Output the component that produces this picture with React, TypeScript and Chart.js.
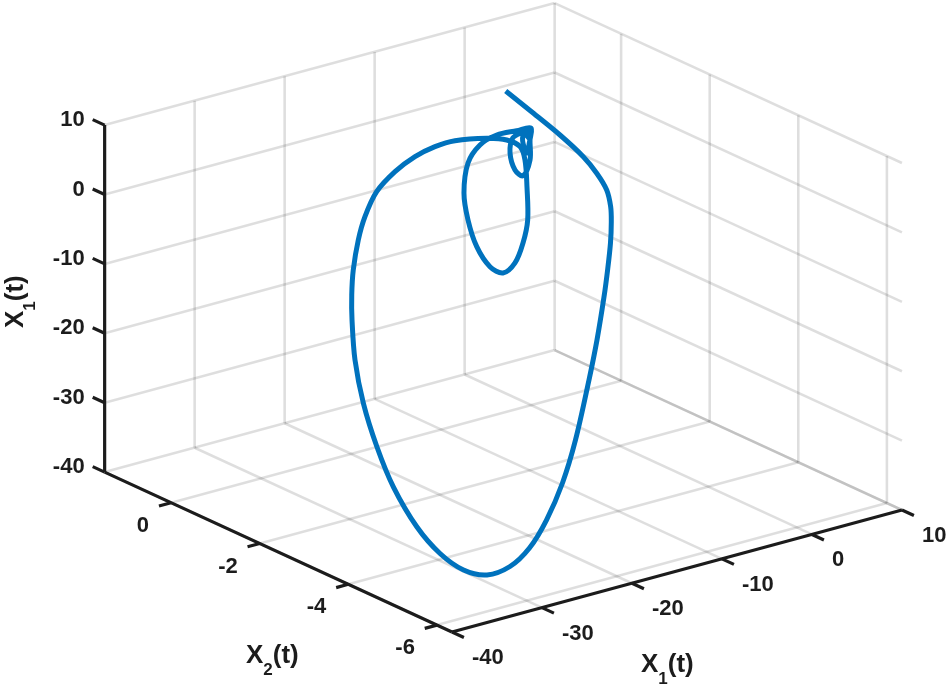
import React, { useEffect, useRef } from "react";
import { Chart, registerables } from "chart.js";

Chart.register(...registerables);

const x1Ticks = [-40, -30, -20, -10, 0, 10];
const x2Ticks = [0, -2, -4, -6];
const x3Ticks = [10, 0, -10, -20, -30, -40];
const x1Limits = [-40, 10];
const x2Limits = [1.5, -6.34];
const x3Limits = [-40, 10];

const curveX1 = [
  -2.82, -0.12, 3.21, 5.8, 7.29, 8.4, 8.84, 8.91, 8.82, 8.5, 8.1,
  4.86, 1.51, -4.91, -11.28, -17.98, -22.33, -26.96, -29.51, -32.12, -32.27, -32.37, -30.06, -29.43, -28.47, -26.95, -24.82, -22.39,
  -19.76, -19.2, -18.46, -17.16, -15.12, -12.9, -10.68, -8.46, -4.93, -2.71,
  -1.23, -0.68, -0.46, -0.38, -0.9, -1.79, -3.12, -4.57, -6.04, -7.01, -7.46, -7.01, -5.68, -3.82, -1.6, -0.01,
  -0.12, -0.12, -0.9, -1.79, -2.34, -2.04, -1.04, -0.04, -0.2, -0.46, -0.79, -0.93, -0.34, -0.23, -0.49, -0.34,
];
const curveX2 = [
  0, 0, 0, 0, 0, 0, 0, 0, 0, 0, 0,
  -0.5, -1, -2, -3, -4, -4.5, -5, -5, -5, -4.5, -4, -3, -2.5, -2, -1.5, -1, -0.5,
  0, 0, 0, 0, 0, 0, 0, 0, 0, 0,
  0, 0, 0, 0, 0, 0, 0, 0, 0, 0, 0, 0, 0, 0, 0, 0,
  0, 0, 0, 0, 0, 0, 0, 0, 0, 0, 0, 0, 0, 0, 0, 0,
];
const curveX3 = [
  6.25, 2.49, -2.21, -6.25, -9.16, -11.96, -14.52, -16.75, -19.74, -23.52, -27.27,
  -30.86, -33.97, -37.42, -38.44, -38.48, -39.51, -39.08, -39.4, -37.77, -36.81, -34.43, -32.43, -28.34, -23.9, -19.62, -16.07, -14.79,
  -13.58, -9.46, -6.36, -3.22, -1.05, 0.33, 0.99, 1.07, 0.18, -0.85,
  -2.33, -4.44, -8.37, -13.19, -16.33, -18.89, -19.87, -18.45, -15.05, -10.86, -6.82, -2.65, -0.52, 0.26, 0.1, -0.07,
  -1.76, -4.64, -6.63, -5.49, -2.85, -0.8, -0.38, -0.35, -2.16, -3.51, -2.53, -1.04, -0.63, -1.43, -0.91, -0.67,
];

const view = (x1: number, x2: number, x3: number) => ({
  x: 531.1 + 9 * x1 - 44.3 * x2,
  y: 127.5 - 2.44 * x1 - 20.4 * x2 - 6.94 * x3,
});

const BLUE = "#0072BD";
const INK = "#1c1c1c";
const GRID = "rgba(0,0,0,0.13)";
const FONT = '"Liberation Sans", Arial, sans-serif';

const [x1Min, x1Max] = x1Limits;
const [x2Back, x2Front] = x2Limits;
const [x3Min, x3Max] = x3Limits;

function polyline(points: { x: number; y: number }[], color: string, width: number, order: number) {
  return {
    type: "line" as const,
    data: points,
    borderColor: color,
    borderWidth: width,
    pointRadius: 0,
    tension: 0,
    fill: false,
    order,
    borderCapStyle: "butt" as const,
  };
}

function buildDatasets() {
  const grid: any[] = [];
  const g = (a: number[], b: number[]) =>
    grid.push(polyline([view(a[0], a[1], a[2]), view(b[0], b[1], b[2])], GRID, 2.6, 5));
  x1Ticks.forEach((t) => {
    g([t, x2Front, x3Min], [t, x2Back, x3Min]);
    g([t, x2Back, x3Min], [t, x2Back, x3Max]);
  });
  x2Ticks.forEach((t) => {
    g([x1Min, t, x3Min], [x1Max, t, x3Min]);
    g([x1Max, t, x3Min], [x1Max, t, x3Max]);
  });
  x3Ticks.forEach((t) => {
    g([x1Min, x2Back, t], [x1Max, x2Back, t]);
    g([x1Max, x2Back, t], [x1Max, x2Front, t]);
  });

  const axes: any[] = [];
  const a = (p: number[], q: number[]) =>
    axes.push(polyline([view(p[0], p[1], p[2]), view(q[0], q[1], q[2])], INK, 3.2, 2));
  a([x1Min, x2Back, x3Min], [x1Min, x2Back, x3Max]);
  a([x1Min, x2Back, x3Min], [x1Min, x2Front, x3Min]);
  a([x1Min, x2Front, x3Min], [x1Max, x2Front, x3Min]);
  x3Ticks.forEach((t) => a([x1Min, x2Back, t], [x1Min, x2Back + 0.27, t]));
  x2Ticks.forEach((t) => a([x1Min, t, x3Min], [x1Min - 1.35, t, x3Min]));
  x1Ticks.forEach((t) => a([t, x2Front, x3Min], [t, x2Front - 0.27, x3Min]));

  const curve = {
    ...polyline(curveX1.map((v, i) => view(v, curveX2[i], curveX3[i])), BLUE, 5, 1),
    tension: 0.33,
    borderJoinStyle: "round" as const,
  };
  return [curve, ...axes, ...grid];
}

function axisLabel(ctx: CanvasRenderingContext2D, sub: string) {
  ctx.textAlign = "left";
  ctx.textBaseline = "alphabetic";
  ctx.font = `bold 26px ${FONT}`;
  ctx.fillText("X", 0, 0);
  const w = ctx.measureText("X").width;
  ctx.font = `bold 17px ${FONT}`;
  ctx.fillText(sub, w, 12);
  const s = ctx.measureText(sub).width;
  ctx.font = `bold 26px ${FONT}`;
  ctx.fillText("(t)", w + s, 0);
}

const textPlugin = {
  id: "axisText",
  afterDraw(chart: any) {
    const ctx: CanvasRenderingContext2D = chart.ctx;
    const sx = chart.scales.x;
    const sy = chart.scales.y;
    const at = (x1: number, x2: number, x3: number) => {
      const p = view(x1, x2, x3);
      return { x: sx.getPixelForValue(p.x), y: sy.getPixelForValue(p.y) };
    };
    ctx.save();
    ctx.fillStyle = INK;
    ctx.font = `bold 22px ${FONT}`;
    ctx.textBaseline = "middle";
    ctx.textAlign = "right";
    x3Ticks.forEach((t) => {
      const p = at(x1Min, x2Back, t);
      ctx.fillText(String(t), p.x - 20, p.y - 5);
    });
    x2Ticks.forEach((t) => {
      const p = at(x1Min, t, x3Min);
      ctx.fillText(String(t), p.x - 22, p.y + 23);
    });
    ctx.textAlign = "left";
    x1Ticks.forEach((t) => {
      const p = at(t, x2Front, x3Min);
      ctx.fillText(String(t), p.x + 20, p.y + 26);
    });

    ctx.save();
    ctx.translate(246, 663);
    axisLabel(ctx, "2");
    ctx.restore();
    ctx.save();
    ctx.translate(641, 672);
    axisLabel(ctx, "1");
    ctx.restore();
    ctx.save();
    ctx.translate(23, 328);
    ctx.rotate(-Math.PI / 2);
    axisLabel(ctx, "1");
    ctx.restore();
    ctx.restore();
  },
};

export default function App() {
  const ref = useRef<HTMLCanvasElement>(null);
  useEffect(() => {
    const chart = new Chart(ref.current as HTMLCanvasElement, {
      type: "scatter",
      data: { datasets: buildDatasets() as any },
      plugins: [textPlugin],
      options: {
        animation: false,
        responsive: false,
        layout: { padding: 0 },
        plugins: { legend: { display: false }, tooltip: { enabled: false } },
        scales: {
          x: { type: "linear", min: 0, max: 950, display: false },
          y: { type: "linear", min: 0, max: 689, reverse: true, display: false },
        },
      },
    } as any);
    return () => chart.destroy();
  }, []);
  return (
    <div style={{ position: "absolute", left: 0, top: 0, width: 950, height: 689, background: "#fff" }}>
      <canvas ref={ref} width={950} height={689} style={{ display: "block" }} />
    </div>
  );
}
